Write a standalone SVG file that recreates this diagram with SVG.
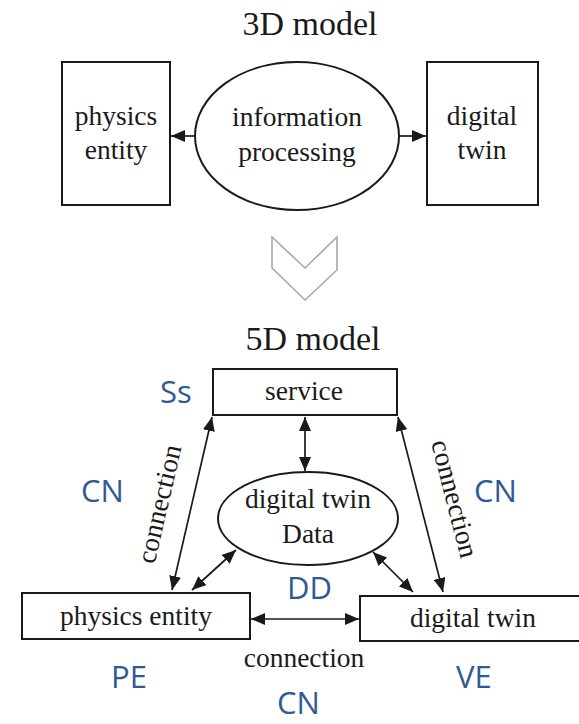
<svg xmlns="http://www.w3.org/2000/svg" width="579" height="724" viewBox="0 0 579 724">
  <style>
    .bg { fill: #ffffff; }
    .box { fill: #ffffff; stroke: #1a1a1a; stroke-width: 2; }
    .lbl { font-family: "Liberation Serif", "Times New Roman", serif; font-size: 27.5px; fill: #1a1a1a; text-anchor: middle; }
    .title { font-family: "Liberation Serif", "Times New Roman", serif; font-size: 34px; fill: #1a1a1a; text-anchor: middle; }
    .tag { font-family: "Open Sans", "Noto Sans", sans-serif; font-size: 31px; fill: #2e5b94; }
    .link { fill: none; stroke: #1a1a1a; stroke-width: 1.7; }
    .chev { fill: none; stroke: #a8a8a8; stroke-width: 1.6; stroke-linejoin: miter; }
  </style>
  <defs>
    <marker id="head" viewBox="0 0 14 12" refX="14" refY="6" markerWidth="14" markerHeight="12" markerUnits="userSpaceOnUse" orient="auto-start-reverse">
      <path d="M0,0 L14,6 L0,12 Z" fill="#1a1a1a"/>
    </marker>
  </defs>

  <rect class="bg" x="0" y="0" width="579" height="724"/>

  <!-- 3D model -->
  <text class="title" x="310" y="35">3D model</text>

  <g id="pe3">
    <rect class="box" x="62" y="62" width="108" height="143"/>
    <text class="lbl" x="116" y="125">physics</text>
    <text class="lbl" x="116" y="159">entity</text>
  </g>
  <g id="info">
    <ellipse class="box" cx="297" cy="136" rx="102" ry="74"/>
    <text class="lbl" x="297" y="126">information</text>
    <text class="lbl" x="297" y="161">processing</text>
  </g>
  <g id="dt3">
    <rect class="box" x="427" y="62" width="111" height="143"/>
    <text class="lbl" x="482" y="125">digital</text>
    <text class="lbl" x="482" y="159">twin</text>
  </g>

  <g id="links3">
    <line class="link" x1="195" y1="136" x2="171" y2="136" marker-end="url(#head)"/>
    <line class="link" x1="399" y1="136" x2="426" y2="136" marker-end="url(#head)"/>
  </g>

  <!-- transition chevron -->
  <polygon class="chev" points="272,237 305,268 337,237 337,270 305,300 272,268"/>

  <!-- 5D model -->
  <text class="title" x="313" y="350">5D model</text>

  <g id="service">
    <rect class="box" x="213" y="369" width="184" height="46"/>
    <text class="lbl" x="304" y="400">service</text>
  </g>
  <g id="data">
    <ellipse class="box" cx="308" cy="518.5" rx="90" ry="46.5"/>
    <text class="lbl" x="308" y="508">digital twin</text>
    <text class="lbl" x="308" y="543">Data</text>
  </g>
  <g id="pe5">
    <rect class="box" x="22" y="593" width="228" height="46"/>
    <text class="lbl" x="136" y="625">physics entity</text>
  </g>
  <g id="dt5">
    <rect class="box" x="360" y="596" width="232" height="45"/>
    <text class="lbl" x="473" y="627">digital twin</text>
  </g>

  <g id="links5">
    <line class="link" x1="305" y1="417" x2="305" y2="471" marker-start="url(#head)" marker-end="url(#head)"/>
    <line class="link" x1="212" y1="417" x2="172" y2="590" marker-start="url(#head)" marker-end="url(#head)"/>
    <line class="link" x1="398" y1="417" x2="443" y2="592" marker-start="url(#head)" marker-end="url(#head)"/>
    <line class="link" x1="236" y1="550" x2="192" y2="590" marker-start="url(#head)" marker-end="url(#head)"/>
    <line class="link" x1="373" y1="552" x2="413" y2="592" marker-start="url(#head)" marker-end="url(#head)"/>
    <line class="link" x1="251" y1="619" x2="359" y2="619" marker-start="url(#head)" marker-end="url(#head)"/>
    <text class="lbl" transform="translate(168,506) rotate(-77)" x="0" y="0">connection</text>
    <text class="lbl" transform="translate(446,501) rotate(75.6)" x="0" y="0">connection</text>
    <text class="lbl" x="304" y="667">connection</text>
  </g>

  <!-- abbreviations -->
  <g id="tags">
    <text class="tag" x="160" y="403">Ss</text>
    <text class="tag" x="81" y="502">CN</text>
    <text class="tag" x="474" y="502">CN</text>
    <text class="tag" x="287" y="599">DD</text>
    <text class="tag" x="111" y="688">PE</text>
    <text class="tag" x="456" y="688">VE</text>
    <text class="tag" x="277" y="714">CN</text>
  </g>
</svg>
